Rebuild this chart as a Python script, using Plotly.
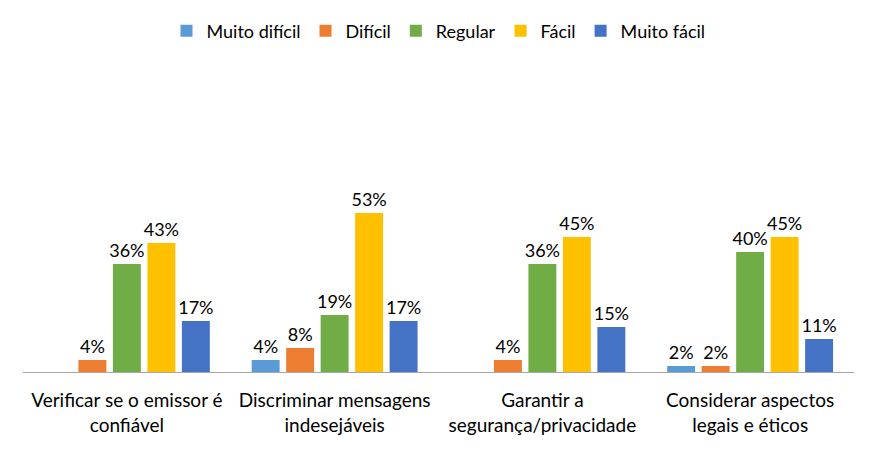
import plotly.graph_objects as go

categories = ["Verificar se o emissor é<br>confiável", "Discriminar mensagens<br>indesejáveis",
              "Garantir a<br>segurança/privacidade", "Considerar aspectos<br>legais e éticos"]
series_names = ["Muito difícil", "Difícil", "Regular", "Fácil", "Muito fácil"]
muito_dificil = [0, 4, 0, 2]
dificil = [4, 8, 4, 2]
regular = [36, 19, 36, 40]
facil = [43, 53, 45, 45]
muito_facil = [17, 17, 15, 11]
colors = ["#5B9BD5", "#ED7D31", "#70AD47", "#FFC000", "#4472C4"]

all_values = [muito_dificil, dificil, regular, facil, muito_facil]

fig = go.Figure()
for name, vals, col in zip(series_names, all_values, colors):
    fig.add_trace(go.Bar(
        x=categories,
        y=[v if v else None for v in vals],
        name=name,
        marker=dict(color=col, line=dict(width=0)),
        text=[f"{v}%" if v else "" for v in vals],
        textposition="outside",
        constraintext="none",
        textfont=dict(family="Lato", size=18, color="#000000"),
        cliponaxis=False,
    ))

fig.update_layout(
    width=879, height=449,
    margin=dict(l=15, r=33, t=184, b=85, autoexpand=False),
    paper_bgcolor="white", plot_bgcolor="white",
    barmode="group", bargap=0.17, bargroupgap=0.19,
    font=dict(family="Lato", size=18, color="#000000"),
    legend=dict(orientation="h", x=0.5, xanchor="center", y=1.894, yanchor="middle",
                font=dict(size=18), traceorder="normal"),
    showlegend=True,
    xaxis=dict(showline=True, linecolor="#A6A6A6", linewidth=1, ticks="",
               tickfont=dict(size=19), ticklabelstandoff=11,
               showgrid=False, automargin=False),
    yaxis=dict(range=[0, 60], visible=False, showgrid=False, automargin=False),
)

fig.write_html("out.html")
